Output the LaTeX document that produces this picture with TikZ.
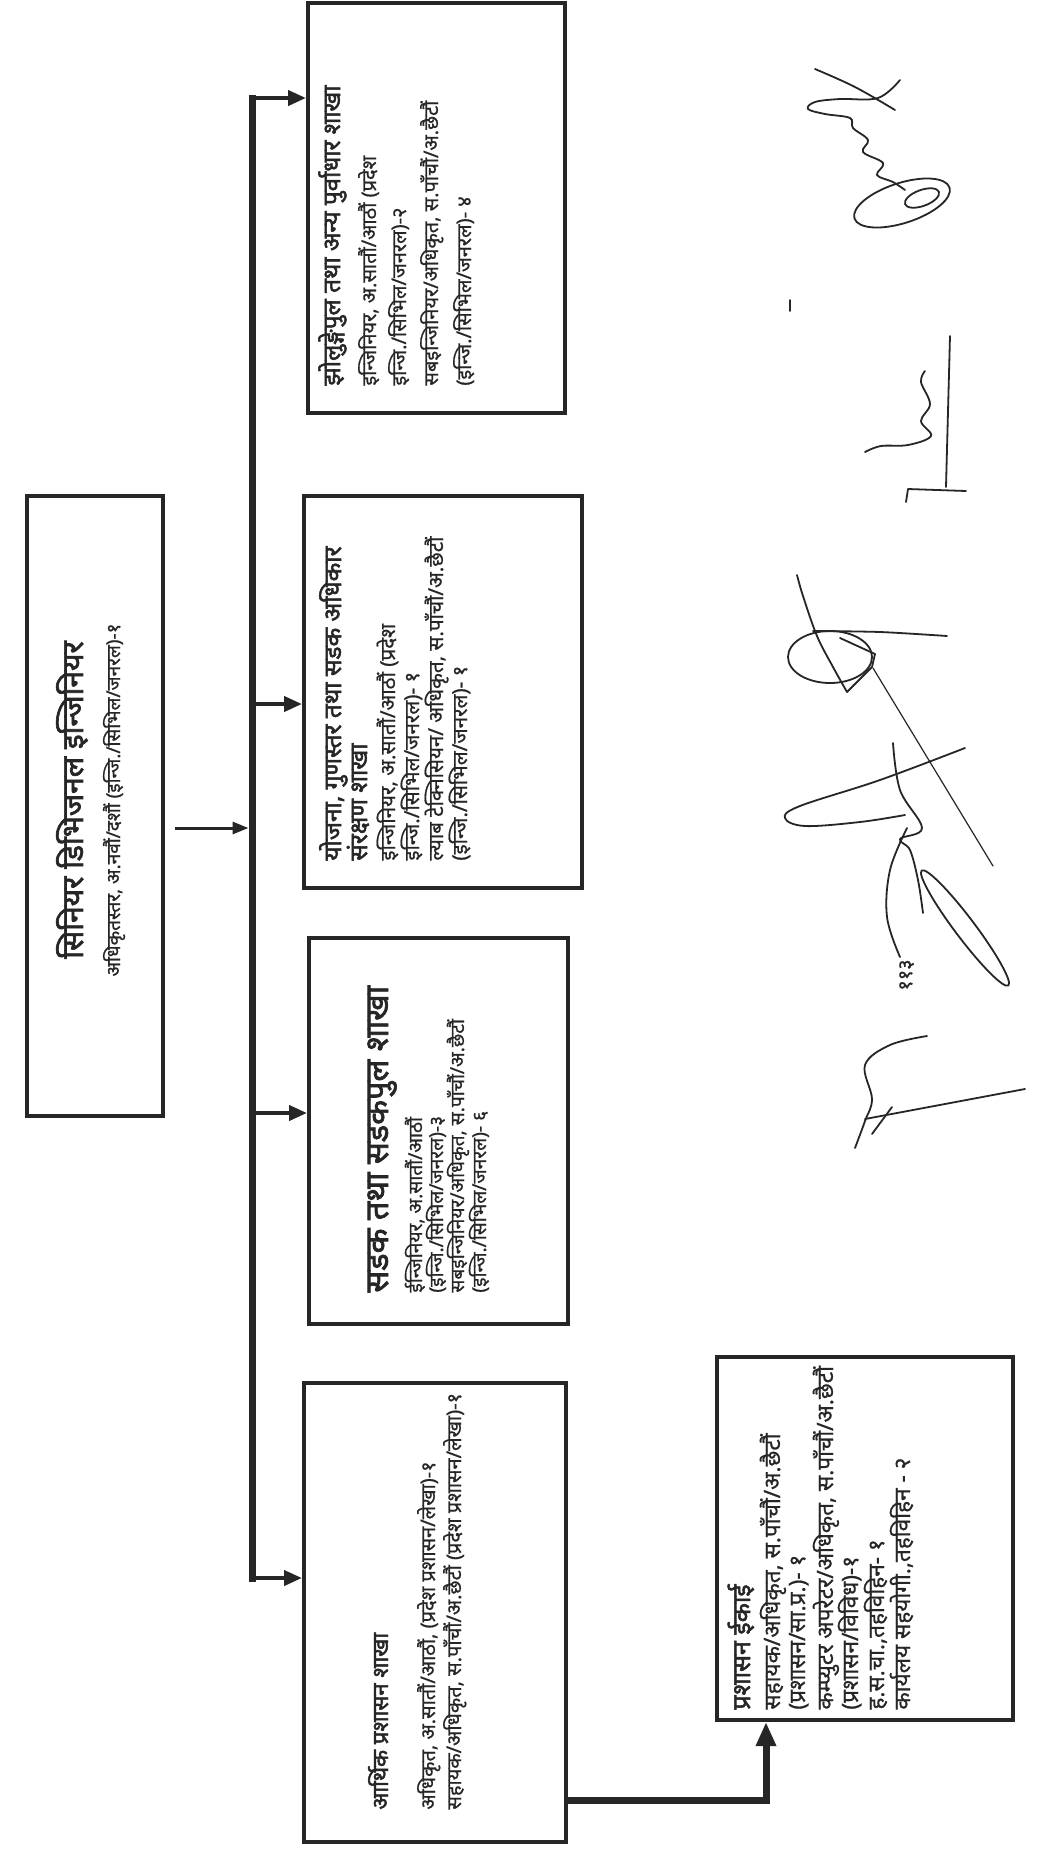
\documentclass[tikz,border=0pt]{standalone}
\usepackage{fontspec}
\newfontfamily\dev[Script=Devanagari, FakeBold=0.7]{Noto Sans}
\newfontfamily\devb[Script=Devanagari, FakeBold=2.2]{Noto Sans}
\usetikzlibrary{arrows.meta}
\definecolor{ink}{HTML}{262626}
\begin{document}
\begin{tikzpicture}[x=0.5pt,y=-0.5pt,
  box/.style={draw=ink, line width=2pt, inner sep=0pt},
  tl/.style={rotate=90, anchor=base west, inner sep=0pt, text=ink, font=\devb\fontsize{#1}{#1}\selectfont},
  ln/.style={rotate=90, anchor=base west, inner sep=0pt, text=ink, font=\dev\fontsize{#1}{#1}\selectfont},
  ctl/.style={rotate=90, anchor=base, inner sep=0pt, text=ink, font=\devb\fontsize{#1}{#1}\selectfont},
  cln/.style={rotate=90, anchor=base, inner sep=0pt, text=ink, font=\dev\fontsize{#1}{#1}\selectfont},
  barline/.style={draw=ink, line width=3.5pt},
  br/.style={draw=ink, line width=2pt, -{Triangle[length=9pt,width=7.5pt]}},
  ar0/.style={draw=ink, line width=1.5pt, -{Triangle[length=8pt,width=6pt]}},
  thick conn/.style={draw=ink, line width=3.5pt, -{Triangle[length=12pt,width=9.5pt]}},
  sig/.style={draw=ink, line width=0.9pt, line cap=round, line join=round}
]
\useasboundingbox[fill=white] (0,0) rectangle (1038,1860);

% boxes
\node[box, minimum width=68pt, minimum height=310pt] (b0) at (95,806) {};
\node[box, minimum width=128.5pt, minimum height=205pt] (b1) at (436.5,208) {};
\node[box, minimum width=139pt, minimum height=196pt] (b2) at (443,692) {};
\node[box, minimum width=129.5pt, minimum height=193pt] (b3) at (438.5,1131) {};
\node[box, minimum width=131pt, minimum height=229.5pt] (b4) at (435,1612.5) {};
\node[box, minimum width=148pt, minimum height=181.5pt] (b5) at (865,1538.5) {};

% top box text
\node[ctl=15] (t0) at (83,800) {सिनियर डिभिजनल इन्जिनियर};
\node[cln=9.5] (s0) at (120,800) {अधिकृतस्तर, अ.नवौं/दशौं (इन्जि./सिभिल/जनरल)-१};

% box 1
\node[tl=12.1] (t1) at (340,386) {झोलुङ्गेपुल तथा अन्य पुर्वाधार शाखा};
\node[ln=10] (l11) at (376,386) {इन्जिनियर, अ.सातौं/आठौं (प्रदेश};
\node[ln=10] (l12) at (406,386) {इन्जि./सिभिल/जनरल)-२};
\node[ln=10] (l13) at (438,386) {सबइन्जिनियर/अधिकृत, स.पाँचौं/अ.छैटौं};
\node[ln=10] (l14) at (471,386) {(इन्जि./सिभिल/जनरल)- ४};

% box 2
\node[tl=12.2] (t2a) at (341,861) {योजना, गुणस्तर तथा सडक अधिकार};
\node[tl=12.2] (t2b) at (367,861) {संरक्षण शाखा};
\node[ln=10.3] (l21) at (395,861) {इन्जिनियर, अ.सातौं/आठौं (प्रदेश};
\node[ln=10.3] (l22) at (419,861) {इन्जि./सिभिल/जनरल)- १};
\node[ln=10.3] (l23) at (443,861) {ल्याब टेक्निसियन/ अधिकृत, स.पाँचौं/अ.छैटौं};
\node[ln=10.3] (l24) at (467,861) {(इन्जि./सिभिल/जनरल)- १};

% box 3
\node[tl=16.2] (t3) at (388,1293) {सडक तथा सडकपुल शाखा};
\node[ln=9.6] (l31) at (422,1293) {ईन्जिनियर, अ.सातौं/आठौं};
\node[ln=9.6] (l32) at (443,1293) {(इन्जि./सिभिल/जनरल)-३};
\node[ln=9.6] (l33) at (464,1293) {सबइन्जिनियर/अधिकृत, स.पाँचौं/अ.छैटौं};
\node[ln=9.6] (l34) at (486,1293) {(इन्जि./सिभिल/जनरल)- ६};

% box 4
\node[tl=11.1] (t4) at (388,1810) {आर्थिक प्रशासन शाखा};
\node[ln=10] (l41) at (435,1810) {अधिकृत, अ.सातौं/आठौं, (प्रदेश प्रशासन/लेखा)-१};
\node[ln=10] (l42) at (461,1810) {सहायक/अधिकृत, स.पाँचौं/अ.छैटौं (प्रदेश प्रशासन/लेखा)-१};

% box 5
\node[tl=12.5] (t5) at (750,1710) {प्रशासन ईकाई};
\node[ln=11.3] (l51) at (780,1710) {सहायक/अधिकृत, स.पाँचौं/अ.छैटौं};
\node[ln=11.3] (l52) at (805,1710) {(प्रशासन/सा.प्र.)- १};
\node[ln=11.3] (l53) at (833,1710) {कम्प्युटर अपरेटर/अधिकृत, स.पाँचौं/अ.छैटौं};
\node[ln=11.3] (l54) at (858,1710) {(प्रशासन/विविध)-१};
\node[ln=11.3] (l55) at (884,1710) {ह.स.चा.,तहविहिन- १};
\node[ln=11.3] (l56) at (910,1710) {कार्यलय सहयोगी.,तहविहिन - २};

% connectors
\coordinate (bt) at (252,98);
\coordinate (bb) at (252,1578);
\coordinate (j2) at (252,704);
\coordinate (j3) at (252,1113);
\coordinate (a0) at (175,828);
\coordinate (k1) at (566,1800);
\coordinate (k2) at (766,1800);
\draw[barline, line cap=rect] (bt) -- (bb);
\draw[ar0, shorten >=1.75pt] (a0) -- (a0 -| bt);
\draw[br] (bt) -- (bt -| b1.west);
\draw[br] (j2) -- (j2 -| b2.west);
\draw[br] (j3) -- (j3 -| b3.west);
\draw[br] (bb) -- (bb -| b4.west);
\draw[thick conn, line join=miter] (k1) -- (k2) -- (k2 |- b5.south);

% page number
\node[cln=10] (pg) at (912,975) {११३};

% signature 1
\begin{scope}[shift={(25,10)}]
\draw[sig] plot[smooth, tension=0.6] coordinates {(790,59) (830,77) (870,100)};
\draw[sig] plot[smooth, tension=0.6] coordinates {(875,70) (853,88) (815,89) (790,92) (783,99) (800,104) (825,108) (828,118) (843,130) (838,142) (858,153) (852,165) (868,172) (880,180)};
\draw[sig, rotate around={18:(877,193)}] (877,193) ellipse [x radius=25pt, y radius=10pt];
\draw[sig, rotate around={20:(897,188)}] (897,188) ellipse [x radius=9pt, y radius=4pt];
\end{scope}
% dash
\draw[sig] (790,300) -- (790,311);
% signature 2
\begin{scope}[shift={(-12,25)}]
\draw[sig] (962,311) -- (958,462);
\draw[sig] plot[smooth, tension=0.6] coordinates {(937,346) (933,357) (942,379) (933,396) (943,411) (920,420) (893,421) (877,427)};
\draw[sig] (978,466) -- (920,464) -- (918,477);
\end{scope}
% signature 3
\draw[sig] plot[smooth, tension=0.6] coordinates {(797,575) (803,596) (817,636) (833,667) (847,692)};
\draw[sig] (830,657) ellipse [x radius=21pt, y radius=13pt];
\draw[sig] plot[smooth, tension=0.5] coordinates {(813,631) (880,632) (947,636)};
\draw[sig] (840,638) -- (875,654) -- (872,667) -- (847,692);
\draw[sig, line width=0.6pt] (873,668) -- (993,866);
\draw[sig] plot[smooth, tension=0.6] coordinates {(965,748) (880,780) (800,806) (785,818) (805,826) (860,822) (905,815)};
\draw[sig] plot[smooth, tension=0.6] coordinates {(893,743) (900,790) (922,828) (900,839) (910,850) (918,880) (923,913)};
\draw[sig, rotate around={-53:(965,928)}] (965,928) ellipse [x radius=36pt, y radius=5pt];
\draw[sig] plot[smooth, tension=0.6] coordinates {(907,828) (890,870) (887,917) (900,957)};
% signature 4
\begin{scope}[shift={(-45,-15)}]
\draw[sig] plot[smooth, tension=0.6] coordinates {(972,1051) (935,1060) (910,1080) (917,1114) (910,1136) (900,1163)};
\draw[sig] (910,1134) -- (1070,1104);
\draw[sig] (917,1149) -- (937,1122);
\end{scope}
\end{tikzpicture}
\end{document}
